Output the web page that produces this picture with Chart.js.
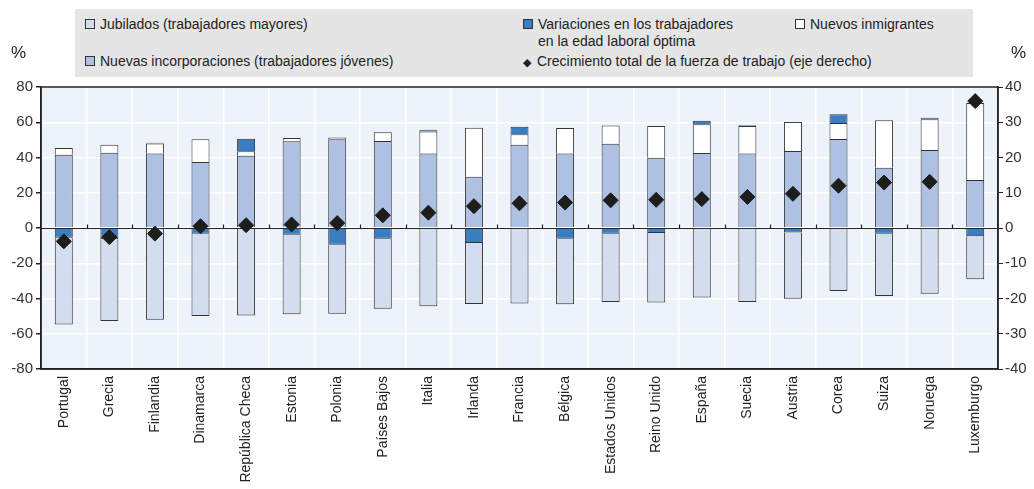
<!DOCTYPE html>
<html>
<head>
<meta charset="utf-8">
<script src="https://cdn.jsdelivr.net/npm/chart.js@4"></script>
<style>
  body { margin: 0; background: #fff; font-family: "Liberation Sans", Arial, sans-serif; }
  #wrap { position: relative; width: 1034px; height: 489px; }
  #legend { position: absolute; left: 75px; top: 9px; width: 898px; height: 68px; background: #e5e5e5; color: #222; font-size: 14px; }
  .item { position: absolute; white-space: nowrap; line-height: 17px; }
  .sw { display: inline-block; width: 8px; height: 8px; border: 1px solid #333; margin-right: 5px; vertical-align: 0px; }
  .unit { position: absolute; top: 43px; font-size: 17px; color: #222; }
</style>
</head>
<body>
<div id="wrap">
  <canvas id="chart"></canvas>
  <div id="legend">
    <div class="item" style="left:10px;top:7px"><span class="sw" style="background:#d4ddee"></span>Jubilados (trabajadores mayores)</div>
    <div class="item" style="left:448px;top:7px"><span class="sw" style="background:#3a7dc1"></span>Variaciones en los trabajadores<br><span style="padding-left:15px">en la edad laboral óptima</span></div>
    <div class="item" style="left:720px;top:7px"><span class="sw" style="background:#fff"></span>Nuevos inmigrantes</div>
    <div class="item" style="left:10px;top:44px"><span class="sw" style="background:#aec1e3"></span>Nuevas incorporaciones (trabajadores jóvenes)</div>
    <div class="item" style="left:448px;top:44px"><span style="display:inline-block;width:9px;margin-right:5px;font-size:11px">&#9670;</span>Crecimiento total de la fuerza de trabajo (eje derecho)</div>
  </div>
  <div class="unit" style="left:11px">%</div>
  <div class="unit" style="left:1011px">%</div>
</div>
<script>
const countries = ['Portugal', 'Grecia', 'Finlandia', 'Dinamarca', 'República Checa', 'Estonia', 'Polonia',
  'Países Bajos', 'Italia', 'Irlanda', 'Francia', 'Bélgica', 'Estados Unidos', 'Reino Unido', 'España',
  'Suecia', 'Austria', 'Corea', 'Suiza', 'Noruega', 'Luxemburgo'];

// left axis, %
const nuevas = [41.6, 42.7, 42.2, 37.4, 41.0, 49.2, 50.3, 49.4, 42.2, 29.1, 47.3, 42.2, 47.8, 39.9, 42.6, 42.2, 43.7, 50.5, 34.2, 44.3, 27.2];
const inmigrantes = [3.8, 4.6, 5.7, 12.9, 2.6, 1.9, 1.0, 4.9, 12.5, 27.8, 5.9, 14.6, 10.4, 18.0, 16.3, 15.7, 16.5, 9.1, 27.0, 17.4, 43.7];
const variaciones = [-5.5, -6.4, 0.4, -3.2, 7.0, -3.8, -9.5, -6.1, 1.1, -8.5, 4.2, -6.1, -3.2, -2.8, 1.9, 0.4, -2.5, 4.9, -3.2, 0.9, -4.7];
const jubilados = [-49.3, -46.4, -52.0, -46.7, -49.6, -45.2, -39.1, -39.7, -44.4, -34.6, -42.9, -37.2, -38.8, -39.4, -39.5, -42.0, -37.6, -35.7, -35.4, -37.3, -24.4];
// right axis, %
const crecimiento = [-3.8, -2.6, -1.6, 0.5, 0.8, 1.0, 1.4, 3.6, 4.35, 6.2, 7.0, 7.2, 7.85, 8.0, 8.2, 8.8, 9.7, 12.0, 12.9, 13.1, 36.0];

const leftTicks = [-80, -60, -40, -20, 0, 20, 40, 60, 80];
const rightTicks = [-40, -30, -20, -10, 0, 10, 20, 30, 40];

// plot background, zero line with small ticks, frame
const decor = {
  id: 'decor',
  beforeDraw(chart) {
    const { ctx, chartArea: a } = chart;
    ctx.save();
    ctx.fillStyle = '#eef2f9';
    ctx.fillRect(a.left, a.top, a.right - a.left, a.bottom - a.top);
    ctx.restore();
  },
  beforeDatasetsDraw(chart) {
    const { ctx, chartArea: a, scales } = chart;
    const y0 = Math.round(scales.y.getPixelForValue(0)) + 0.5;
    ctx.save();
    ctx.strokeStyle = '#222';
    ctx.lineWidth = 1.2;
    ctx.beginPath();
    ctx.moveTo(a.left, y0);
    ctx.lineTo(a.right, y0);
    const n = countries.length;
    const w = (a.right - a.left) / n;
    for (let i = 1; i < n; i++) {
      const x = Math.round(a.left + i * w) + 0.5;
      ctx.moveTo(x, y0);
      ctx.lineTo(x, y0 - 4);
    }
    ctx.stroke();
    ctx.restore();
  },
  afterDraw(chart) {
    const { ctx, chartArea: a } = chart;
    ctx.save();
    ctx.strokeStyle = '#222';
    ctx.lineWidth = 1.5;
    ctx.strokeRect(a.left, a.top, a.right - a.left, a.bottom - a.top);
    ctx.restore();
  }
};

const barStyle = { borderColor: '#333', borderWidth: 1, barPercentage: 0.395, categoryPercentage: 1, yAxisID: 'y', stack: 's' };

new Chart(document.getElementById('chart').getContext('2d'), {
  type: 'bar',
  data: {
    labels: countries,
    datasets: [
      {
        type: 'line',
        label: 'Crecimiento total de la fuerza de trabajo (eje derecho)',
        data: crecimiento,
        yAxisID: 'y2',
        showLine: false,
        pointStyle: 'rectRot',
        pointRadius: 7.5,
        backgroundColor: '#1d1d1b',
        borderColor: '#1d1d1b',
        borderWidth: 1
      },
      Object.assign({ label: 'Nuevas incorporaciones (trabajadores jóvenes)', data: nuevas, backgroundColor: '#aec1e3' }, barStyle),
      Object.assign({ label: 'Nuevos inmigrantes', data: inmigrantes, backgroundColor: '#ffffff' }, barStyle),
      Object.assign({ label: 'Variaciones en los trabajadores en la edad laboral óptima', data: variaciones, backgroundColor: '#3a7dc1' }, barStyle),
      Object.assign({ label: 'Jubilados (trabajadores mayores)', data: jubilados, backgroundColor: '#d4ddee' }, barStyle)
    ]
  },
  options: {
    responsive: true,
    maintainAspectRatio: false,
    animation: false,
    layout: { padding: { top: 87 } },
    plugins: { legend: { display: false }, tooltip: { enabled: false } },
    scales: {
      x: {
        stacked: true,
        grid: { color: '#ffffff', lineWidth: 1.5, offset: true, drawTicks: false },
        border: { color: '#222', width: 1.5 },
        ticks: { color: '#222', font: { family: 'Liberation Sans', size: 14 }, minRotation: 90, maxRotation: 90, padding: 7, autoSkip: false },
        afterFit(s) { s.height = 120; }
      },
      y: {
        stacked: true,
        position: 'left',
        min: -80,
        max: 80,
        afterBuildTicks(s) { s.ticks = leftTicks.map(v => ({ value: v })); },
        grid: { color: '#ffffff', lineWidth: 1.5, tickColor: '#222', tickLength: 5 },
        border: { color: '#222', width: 1.5 },
        ticks: { color: '#333', font: { family: 'Liberation Sans', size: 15 }, padding: 3 },
        afterFit(s) { s.width = 41; }
      },
      y2: {
        position: 'right',
        min: -40,
        max: 40,
        afterBuildTicks(s) { s.ticks = rightTicks.map(v => ({ value: v })); },
        grid: { drawOnChartArea: false, tickColor: '#222', tickLength: 5 },
        border: { color: '#222', width: 1.5 },
        ticks: { color: '#333', font: { family: 'Liberation Sans', size: 15 }, padding: 2 },
        afterFit(s) { s.width = 36; }
      }
    }
  },
  plugins: [decor]
});
</script>
</body>
</html>
